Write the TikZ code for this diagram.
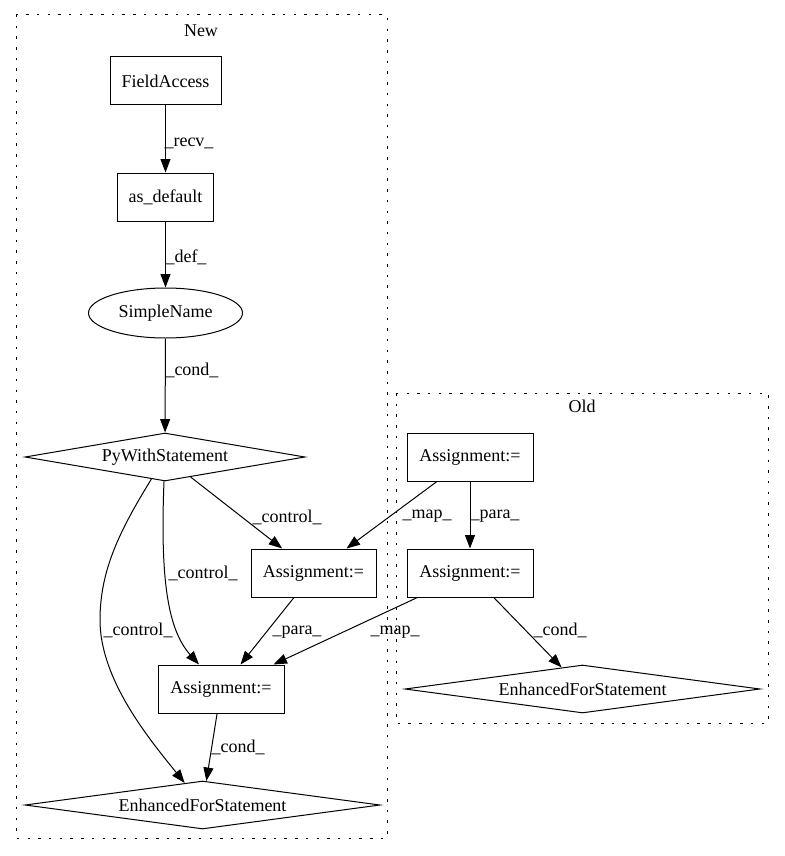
\documentclass[tikz,border=0pt]{standalone}
\usepackage{fontspec}
\setmainfont{Liberation Serif}
\usetikzlibrary{shapes.geometric,arrows.meta}
\begin{document}
\begin{tikzpicture}[x=1pt,y=-1pt,
  every node/.style={font=\fontsize{18}{20}\selectfont, inner sep=0pt},
  box/.style={draw, line width=1pt, rectangle, minimum height=48pt},
  dia/.style={draw, line width=1pt, diamond, minimum height=48pt},
  ell/.style={draw, line width=1pt, ellipse, minimum width=154pt, minimum height=50pt},
  edge/.style={draw, line width=1pt, -{Triangle[length=13.5pt,width=10pt]}},
  cluster/.style={draw, line width=1pt, dash pattern=on 2.5pt off 8.2pt},
  lbl/.style={}]
\useasboundingbox (0,0) rectangle (784,856);
% clusters
\draw[cluster] (16,15) rectangle (387,838);
\draw[cluster] (396,393) rectangle (768,723);
\node (newlbl) at (201,31) {New};
\node (oldlbl) at (582,406) {Old};
% nodes
\node[box, minimum width=111pt] (fa) at (165.5,81) {FieldAccess};
\node[box, minimum width=96pt] (asd) at (165.5,197) {as\_default};
\node[ell] (sn) at (165.5,313) {SimpleName};
\node[dia, minimum width=280pt, aspect=5.8] (pyw) at (165,457) {PyWithStatement};
\node[box, minimum width=125pt] (a1) at (313.5,573) {Assignment:=};
\node[box, minimum width=126pt] (a2) at (221,689) {Assignment:=};
\node[dia, minimum width=355pt, aspect=7.4] (efs) at (202.5,805) {EnhancedForStatement};
\node[box, minimum width=126pt] (oa1) at (470,457) {Assignment:=};
\node[box, minimum width=126pt] (oa2) at (470,573) {Assignment:=};
\node[dia, minimum width=355pt, aspect=7.4] (oefs) at (582.5,689) {EnhancedForStatement};
% edges
\draw[edge] (fa) -- (asd);
\draw[edge] (asd) -- (sn);
\draw[edge] (sn) -- (pyw);
\draw[edge] (pyw) -- (a1);
\draw[edge] (oa1) -- (a1);
\draw[edge] (oa1) -- (oa2);
\draw[edge] (a1) -- (a2);
\draw[edge] (oa2) -- (a2);
\draw[edge] (oa2) -- (oefs);
\draw[edge] (a2) -- (efs);
\draw[edge] (pyw) .. controls (160,580) and (168,630) .. (a2);
\draw[edge] (pyw) .. controls (120,530) and (100,570) .. (100,620)
  .. controls (100,680) and (150,740) .. (efs);
% labels
\node[lbl] (l1) at (189,143) {\_recv\_};
\node[lbl] (l2) at (186,257) {\_def\_};
\node[lbl] (l3) at (192,370) {\_cond\_};
\node[lbl] (l4) at (287,517) {\_control\_};
\node[lbl] (l5) at (427,516) {\_map\_};
\node[lbl] (l6) at (495,516) {\_para\_};
\node[lbl] (l7) at (203,573) {\_control\_};
\node[lbl] (l8) at (138,630) {\_control\_};
\node[lbl] (l9) at (297,632) {\_para\_};
\node[lbl] (l10) at (395,632) {\_map\_};
\node[lbl] (l11) at (560,630) {\_cond\_};
\node[lbl] (l12) at (238,747) {\_cond\_};
\end{tikzpicture}
\end{document}
